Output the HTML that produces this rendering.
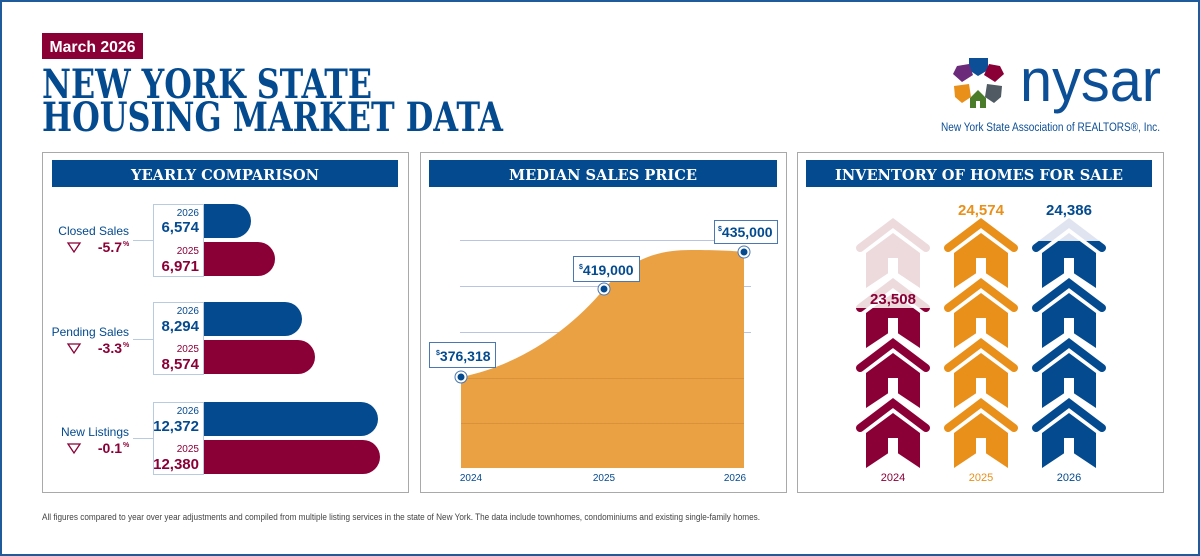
<!DOCTYPE html>
<html><head><meta charset="utf-8"><style>
html,body{margin:0;padding:0;background:#fff}
svg{display:block}
text{font-family:"Liberation Sans",sans-serif}
.h{font-family:"DejaVu Serif","Liberation Serif",serif;font-weight:bold}
</style></head><body>
<svg width="1200" height="556" viewBox="0 0 1200 556" xmlns="http://www.w3.org/2000/svg">
<defs>
<g id="unit">
  <polyline points="4,28 37,3 70,28" fill="none" stroke="#fff" stroke-width="18" stroke-linecap="round" stroke-linejoin="miter"/>
  <polyline points="4,28 37,3 70,28" fill="none" stroke="currentColor" stroke-width="8" stroke-linecap="round"/>
  <polygon points="37,13 64,33 64,68 37,50 10,68 10,33" fill="currentColor"/>
  <rect x="32" y="38" width="10" height="16" fill="#fff"/>
</g>
<g id="col">
  <use href="#unit" y="220"/><use href="#unit" y="280"/><use href="#unit" y="340"/><use href="#unit" y="400"/>
</g>
<clipPath id="c1"><rect x="-10" y="308" width="100" height="200"/></clipPath>
<clipPath id="c3"><rect x="-10" y="241" width="100" height="260"/></clipPath>
</defs>
<rect x="1" y="1" width="1198" height="554" fill="#fff" stroke="#1f5a9a" stroke-width="2"/>
<!-- header -->
<rect x="42" y="33" width="101" height="26" fill="#8a0036"/>
<text x="92.5" y="52" fill="#fff" font-size="16" font-weight="bold" text-anchor="middle" textLength="86" lengthAdjust="spacingAndGlyphs">March 2026</text>
<text class="h" x="42" y="98" fill="#034a8f" font-size="40" textLength="330" lengthAdjust="spacingAndGlyphs">NEW YORK STATE</text>
<text class="h" x="42" y="131" fill="#034a8f" font-size="40" textLength="461" lengthAdjust="spacingAndGlyphs">HOUSING MARKET DATA</text>
<!-- logo -->
<g>
  <polygon points="969,58 988,58 988,70 978,76 969,70" fill="#0d4f96"/>
  <polygon points="957,66 969,64 973,75 962,82 953,74" fill="#6b2a7a"/>
  <polygon points="989,64 1000,66 1004,74 995,82 984,75" fill="#8a0036"/>
  <polygon points="954,86 969,84 971,97 962,103 955,97" fill="#e8901a"/>
  <polygon points="987,84 1002,86 1001,97 994,103 985,97" fill="#4f5a62"/>
  <polygon points="970,98 978,90 986,98 986,108 970,108" fill="#4a7c2a"/>
  <rect x="976" y="101" width="4" height="7" fill="#fff"/>
</g>
<text x="1020" y="101" fill="#0d4f96" font-size="60" textLength="141" lengthAdjust="spacingAndGlyphs">nysar</text>
<text x="941" y="131" fill="#0d4f96" font-size="11.5" textLength="219" lengthAdjust="spacingAndGlyphs">New York State Association of REALTORS®, Inc.</text>
<!-- panels -->
<rect x="42.5" y="152.5" width="366" height="340" fill="none" stroke="#a9a9a9"/>
<rect x="420.5" y="152.5" width="366" height="340" fill="none" stroke="#a9a9a9"/>
<rect x="797.5" y="152.5" width="366" height="340" fill="none" stroke="#a9a9a9"/>
<rect x="52" y="160" width="346" height="27" fill="#034a8f"/>
<rect x="429" y="160" width="348" height="27" fill="#034a8f"/>
<rect x="806" y="160" width="346" height="27" fill="#034a8f"/>
<text class="h" x="225" y="180" fill="#fff" font-size="15" text-anchor="middle" textLength="188" lengthAdjust="spacingAndGlyphs">YEARLY COMPARISON</text>
<text class="h" x="603" y="180" fill="#fff" font-size="15" text-anchor="middle" textLength="188" lengthAdjust="spacingAndGlyphs">MEDIAN SALES PRICE</text>
<text class="h" x="979" y="180" fill="#fff" font-size="15" text-anchor="middle" textLength="288" lengthAdjust="spacingAndGlyphs">INVENTORY OF HOMES FOR SALE</text>
<!-- yearly comparison -->
<g font-weight="bold">
  <g stroke="#b9cbe0" fill="#fff">
    <rect x="153.5" y="204.5" width="50" height="72"/>
    <rect x="153.5" y="302.5" width="50" height="72"/>
    <rect x="153.5" y="402.5" width="50" height="72"/>
    <line x1="133" y1="240.5" x2="153" y2="240.5"/>
    <line x1="133" y1="339.5" x2="153" y2="339.5"/>
    <line x1="133" y1="438.5" x2="153" y2="438.5"/>
  </g>
  <path d="M204 204h30a17 17 0 0 1 0 34h-30z" fill="#034a8f"/>
  <path d="M204 242h54a17 17 0 0 1 0 34h-54z" fill="#8a0036"/>
  <path d="M204 302h81a17 17 0 0 1 0 34h-81z" fill="#034a8f"/>
  <path d="M204 340h94a17 17 0 0 1 0 34h-94z" fill="#8a0036"/>
  <path d="M204 402h157a17 17 0 0 1 0 34h-157z" fill="#034a8f"/>
  <path d="M204 440h159a17 17 0 0 1 0 34h-159z" fill="#8a0036"/>
  <g text-anchor="end">
    <text x="199" y="216" font-size="10" font-weight="normal" fill="#034a8f">2026</text>
    <text x="199" y="232" font-size="15" fill="#034a8f">6,574</text>
    <text x="199" y="254" font-size="10" font-weight="normal" fill="#8a0036">2025</text>
    <text x="199" y="271" font-size="15" fill="#8a0036">6,971</text>
    <text x="199" y="314" font-size="10" font-weight="normal" fill="#034a8f">2026</text>
    <text x="199" y="331" font-size="15" fill="#034a8f">8,294</text>
    <text x="199" y="352" font-size="10" font-weight="normal" fill="#8a0036">2025</text>
    <text x="199" y="369" font-size="15" fill="#8a0036">8,574</text>
    <text x="199" y="414" font-size="10" font-weight="normal" fill="#034a8f">2026</text>
    <text x="199" y="431" font-size="15" fill="#034a8f">12,372</text>
    <text x="199" y="452" font-size="10" font-weight="normal" fill="#8a0036">2025</text>
    <text x="199" y="469" font-size="15" fill="#8a0036">12,380</text>
    <text x="129" y="235" font-size="12" font-weight="normal" fill="#034a8f">Closed Sales</text>
    <text x="122" y="252" font-size="14" fill="#8a0036">-5.7</text>
    <text x="129" y="336" font-size="12" font-weight="normal" fill="#034a8f">Pending Sales</text>
    <text x="122" y="353" font-size="14" fill="#8a0036">-3.3</text>
    <text x="129" y="436" font-size="12" font-weight="normal" fill="#034a8f">New Listings</text>
    <text x="122" y="453" font-size="14" fill="#8a0036">-0.1</text>
  </g>
  <text x="123" y="246" font-size="7" fill="#8a0036">%</text>
  <text x="123" y="347" font-size="7" fill="#8a0036">%</text>
  <text x="123" y="447" font-size="7" fill="#8a0036">%</text>
  <g fill="none" stroke="#8a0036" stroke-width="1.3">
    <polygon points="68,243 80,243 74,252"/>
    <polygon points="68,344 80,344 74,353"/>
    <polygon points="68,444 80,444 74,453"/>
  </g>
</g>
<!-- median -->
<g stroke="#b9c4e0" stroke-width="1">
  <line x1="460" y1="240.5" x2="751" y2="240.5"/>
  <line x1="460" y1="286.5" x2="751" y2="286.5"/>
  <line x1="460" y1="332.5" x2="751" y2="332.5"/>
</g>
<path d="M461 377 C520 365 570 330 604 289 C630 258 660 250 690 250 C720 250 735 251 744 252 L744 468 L461 468 Z" fill="#eaa144"/>
<g stroke="#d9923a" stroke-width="1"><line x1="461" y1="378.5" x2="744" y2="378.5"/><line x1="461" y1="423.5" x2="744" y2="423.5"/></g>
<g font-weight="bold" fill="#034a8f">
  <rect x="429.5" y="342.5" width="66" height="25" fill="#fff" stroke="#4a78b0"/>
  <text x="436" y="361" font-size="14"><tspan font-size="7" dy="-6">$</tspan><tspan dy="6">376,318</tspan></text>
  <rect x="573.5" y="256.5" width="66" height="25" fill="#fff" stroke="#4a78b0"/>
  <text x="579" y="275" font-size="14"><tspan font-size="7" dy="-6">$</tspan><tspan dy="6">419,000</tspan></text>
  <rect x="714.5" y="220.5" width="63" height="23" fill="#fff" stroke="#4a78b0"/>
  <text x="718" y="237" font-size="14"><tspan font-size="7" dy="-6">$</tspan><tspan dy="6">435,000</tspan></text>
  <g stroke="#4a78b0" fill="#fff"><circle cx="461" cy="377" r="6"/><circle cx="604" cy="289" r="6"/><circle cx="744" cy="252" r="6"/></g>
  <circle cx="461" cy="377" r="3.5"/><circle cx="604" cy="289" r="3.5"/><circle cx="744" cy="252" r="3.5"/>
</g>
<g font-size="10" fill="#034a8f" text-anchor="middle">
  <text x="471" y="481">2024</text><text x="604" y="481">2025</text><text x="735" y="481">2026</text>
</g>
<!-- inventory -->
<g transform="translate(856,0)" color="#eddadd"><use href="#col"/></g>
<g transform="translate(856,0)" color="#8a0036" clip-path="url(#c1)"><use href="#col"/></g>
<g transform="translate(944,0)" color="#e8901a"><use href="#col"/></g>
<g transform="translate(1032,0)" color="#dfe4f0"><use href="#col"/></g>
<g transform="translate(1032,0)" color="#034a8f" clip-path="url(#c3)"><use href="#col"/></g>
<g font-weight="bold" font-size="15" text-anchor="middle">
  <text x="893" y="304" fill="#8a0036">23,508</text>
  <text x="981" y="215" fill="#e8901a">24,574</text>
  <text x="1069" y="215" fill="#034a8f">24,386</text>
</g>
<g font-size="11" text-anchor="middle">
  <text x="893" y="481" fill="#8a0036">2024</text>
  <text x="981" y="481" fill="#e8901a">2025</text>
  <text x="1069" y="481" fill="#034a8f">2026</text>
</g>
<text x="42" y="520" font-size="9" fill="#444" textLength="718" lengthAdjust="spacingAndGlyphs">All figures compared to year over year adjustments and compiled from multiple listing services in the state of New York.  The data include townhomes, condominiums and existing single-family homes.</text>
</svg>
</body></html>
